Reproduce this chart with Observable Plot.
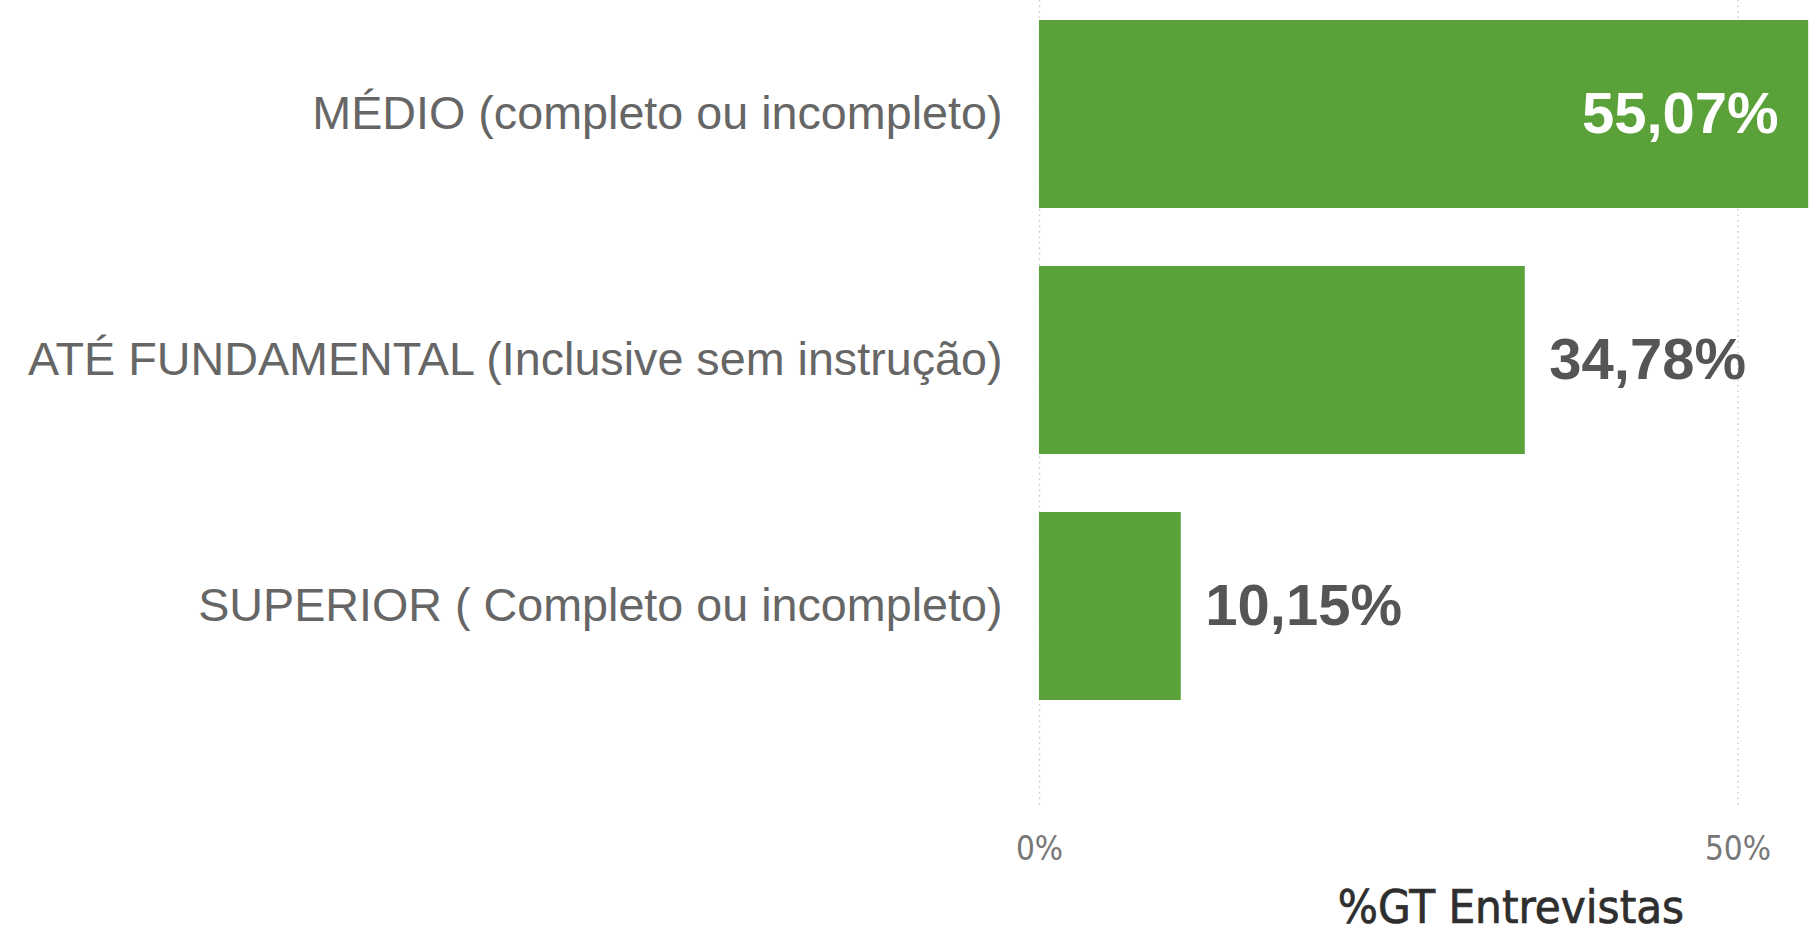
<!DOCTYPE html>
<html><head><meta charset="utf-8">
<script src="https://cdn.jsdelivr.net/npm/d3@7"></script>
<script src="https://cdn.jsdelivr.net/npm/@observablehq/plot@0.6"></script>
<style>
html,body{margin:0;padding:0;background:#fff;}
#wrap{position:relative;width:1810px;height:934px;overflow:hidden;}
#xtitle{position:absolute;left:1511px;top:906px;transform:translate(-50%,-50%);font-family:"DejaVu Sans Condensed","DejaVu Sans",sans-serif;font-size:47px;line-height:1;font-weight:normal;color:#2e2e2e;white-space:nowrap;-webkit-text-stroke:0.7px #2e2e2e;}
</style></head>
<body><div id="wrap"><div id="chart"></div><div id="xtitle"></div></div>
<script>
const categories = [
  "MÉDIO (completo ou incompleto)",
  "ATÉ FUNDAMENTAL (Inclusive sem instrução)",
  "SUPERIOR ( Completo ou incompleto)"
];
const values = [55.07, 34.78, 10.15];
const xTicks = [0, 50];
const xTitle = "%GT Entrevistas";

const data = categories.map((c, i) => ({cat: c, value: values[i]}));
const fmt = v => v.toFixed(2).replace(".", ",") + "%";
const dinFont = "'DejaVu Sans Condensed','DejaVu Sans',sans-serif";

const chart = Plot.plot({
  width: 1810, height: 880,
  marginLeft: 1039, marginRight: 0, marginTop: 0, marginBottom: 72,
  x: {domain: [0, 55.2], label: null},
  y: {domain: categories, paddingInner: 0.236, paddingOuter: 0.258, align: 0.157, label: null},
  style: {fontFamily: "'Liberation Sans', Arial, sans-serif", background: "#fff"},
  marks: [
    Plot.gridX(xTicks, {stroke: "#c8c8c8", strokeOpacity: 1, strokeDasharray: "1.5,4", strokeWidth: 1.5}),
    Plot.barX(data, {x: "value", y: "cat", fill: "#5ba13a"}),
    Plot.axisY({tickSize: 0, tickPadding: 37, fontSize: 46.7, color: "#666", label: null}),
    Plot.axisX(xTicks, {tickSize: 0, tickPadding: 28, fontSize: 33, color: "#777", fontFamily: dinFont, tickFormat: d => d + "%", label: null}),
    Plot.text(data.filter(d => d.value > 50), {x: "value", y: "cat", text: d => fmt(d.value), textAnchor: "end", dx: -30, fill: "white", fontSize: 58, fontWeight: "bold"}),
    Plot.text(data.filter(d => d.value <= 50), {x: "value", y: "cat", text: d => fmt(d.value), textAnchor: "start", dx: 24, fill: "#555", fontSize: 58, fontWeight: "bold"})
  ]
});
document.getElementById("chart").appendChild(chart);
document.getElementById("xtitle").textContent = xTitle;
</script>
</body></html>
